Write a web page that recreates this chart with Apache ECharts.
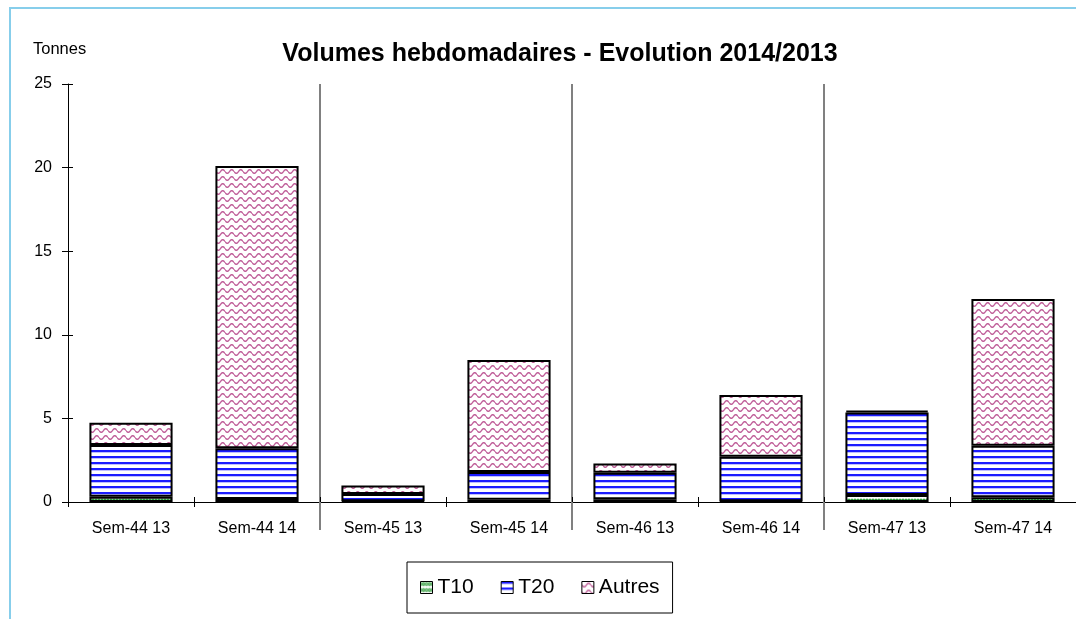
<!DOCTYPE html>
<html>
<head>
    <meta charset="utf-8">
    <title>Volumes hebdomadaires</title>
    <script src="https://cdn.jsdelivr.net/npm/echarts@6/dist/echarts.min.js"></script>
    <style>
        html, body { margin: 0; padding: 0; background: #fff; }
        #main { width: 1076px; height: 619px; }
    </style>
</head>
<body>
<div id="main"></div>
<script>
    // données
    var semaines = ['Sem-44 13', 'Sem-44 14', 'Sem-45 13', 'Sem-45 14', 'Sem-46 13', 'Sem-46 14', 'Sem-47 13', 'Sem-47 14'];
    // limites des groupes de semaines (séparateurs verticaux)
    var limites = ['', 'Sem-44/45', 'Sem-45/46', 'Sem-46/47', ''];
    var t10 = [0.32, 0.18, 0.05, 0.14, 0.16, 0.04, 0.42, 0.28];
    var t20 = [3.09, 3.03, 0.43, 1.65, 1.59, 2.67, 4.94, 3.09];
    var autres = [1.33, 16.89, 0.50, 6.70, 0.56, 3.69, 0.10, 8.77];
    var yTicks = [0, 5, 10, 15, 20, 25];

    // motifs de remplissage
    function motif(w, h, draw) {
        var c = document.createElement('canvas');
        c.width = w; c.height = h;
        var ctx = c.getContext('2d');
        ctx.fillStyle = '#fff';
        ctx.fillRect(0, 0, w, h);
        draw(ctx);
        return { image: c, repeat: 'repeat' };
    }
    var motifT10 = motif(6, 6, function (ctx) {
        ctx.strokeStyle = '#2e9a3a';
        ctx.lineWidth = 1.2;
        ctx.beginPath();
        ctx.moveTo(0, 1); ctx.lineTo(3, 4); ctx.lineTo(6, 1);
        ctx.moveTo(0, 4); ctx.lineTo(3, 1); ctx.lineTo(6, 4);
        ctx.stroke();
    });
    var motifT20 = motif(8, 6, function (ctx) {
        ctx.fillStyle = '#1c1cff';
        ctx.fillRect(0, 0, 8, 2);
        ctx.fillStyle = '#c0c0ff';
        ctx.fillRect(0, 2, 8, 1);
    });
    var motifAutres = motif(9, 7, function (ctx) {
        ctx.strokeStyle = '#c0609a';
        ctx.lineWidth = 1.4;
        ctx.beginPath();
        for (var x = 0; x <= 9; x += 0.5) {
            var y = 3.5 + 1.8 * Math.sin(x / 9 * Math.PI * 2);
            if (x === 0) ctx.moveTo(x, y); else ctx.lineTo(x, y);
        }
        ctx.stroke();
    });

    var chart = echarts.init(document.getElementById('main'));
    var police = 'Liberation Sans, Arial';

    function serie(nom, data, fond) {
        return {
            name: nom,
            type: 'bar',
            stack: 'total',
            xAxisIndex: 0,
            yAxisIndex: 0,
            barWidth: '66%',
            data: data,
            itemStyle: { color: fond, borderColor: '#000', borderWidth: 2 },
            emphasis: { disabled: true }
        };
    }

    function interieur(i) { return i > 0 && i < limites.length - 1; }

    var option = {
        animation: false,
        backgroundColor: '#fff',
        title: [
            {
                text: 'Volumes hebdomadaires - Evolution 2014/2013',
                left: 555, textAlign: 'center', top: 37,
                textStyle: { fontFamily: police, fontSize: 25, fontWeight: 'bold', color: '#000' }
            },
            {
                text: 'Tonnes', left: 28, top: 36,
                textStyle: { fontFamily: police, fontSize: 16.5, fontWeight: 'normal', color: '#000' }
            }
        ],
        legend: {
            data: ['T10', 'T20', 'Autres'],
            left: 407, top: 562,
            padding: [15, 13, 15, 13],
            itemWidth: 12, itemHeight: 12, itemGap: 27,
            icon: 'rect',
            borderColor: '#000', borderWidth: 1,
            textStyle: { fontFamily: police, fontSize: 21, color: '#000' },
            itemStyle: { borderColor: '#000', borderWidth: 1 }
        },
        grid: { left: 68, top: 84, right: -1, bottom: 117 },
        xAxis: [
            {
                type: 'category', data: semaines, position: 'bottom',
                axisLine: { lineStyle: { color: '#000', width: 1 } },
                axisTick: { show: true, inside: false, length: 5, lineStyle: { color: '#000' } },
                axisLabel: { fontFamily: police, fontSize: 16, color: '#000', margin: 19, interval: 0 }
            },
            {
                type: 'category', data: semaines, position: 'bottom',
                axisLine: { show: false },
                axisTick: { show: true, inside: true, length: 5, lineStyle: { color: '#000' } },
                axisLabel: { show: false }
            },
            {
                type: 'category', data: limites, position: 'bottom', boundaryGap: false,
                axisLine: { show: false },
                axisTick: {
                    show: true, inside: false, length: 28,
                    interval: interieur,
                    lineStyle: { color: '#808080', width: 2 }
                },
                splitLine: {
                    show: true,
                    interval: interieur,
                    lineStyle: { color: '#808080', width: 2 }
                },
                axisLabel: { show: false }
            }
        ],
        yAxis: [
            {
                type: 'value', min: 0, max: 25, interval: 5,
                axisLine: { show: true, lineStyle: { color: '#000', width: 1 } },
                axisTick: { show: true, inside: false, length: 6, lineStyle: { color: '#000' } },
                axisLabel: {
                    fontFamily: police, fontSize: 16, color: '#000', margin: 16,
                    formatter: function (v) { return yTicks.indexOf(v) >= 0 ? String(v) : ''; }
                },
                splitLine: { show: false }
            },
            {
                type: 'value', min: 0, max: 25, interval: 5, position: 'left',
                axisLine: { show: false },
                axisTick: { show: true, inside: true, length: 5, lineStyle: { color: '#000' } },
                axisLabel: { show: false },
                splitLine: { show: false }
            }
        ],
        series: [
            serie('T10', t10, motifT10),
            serie('T20', t20, motifT20),
            serie('Autres', autres, motifAutres)
        ],
        graphic: [
            {
                type: 'polyline', silent: true, z: 100,
                shape: { points: [[10, 619], [10, 8], [1076, 8]] },
                style: { stroke: '#87ceeb', lineWidth: 2, fill: null }
            }
        ]
    };
    chart.setOption(option);
</script>
</body>
</html>
